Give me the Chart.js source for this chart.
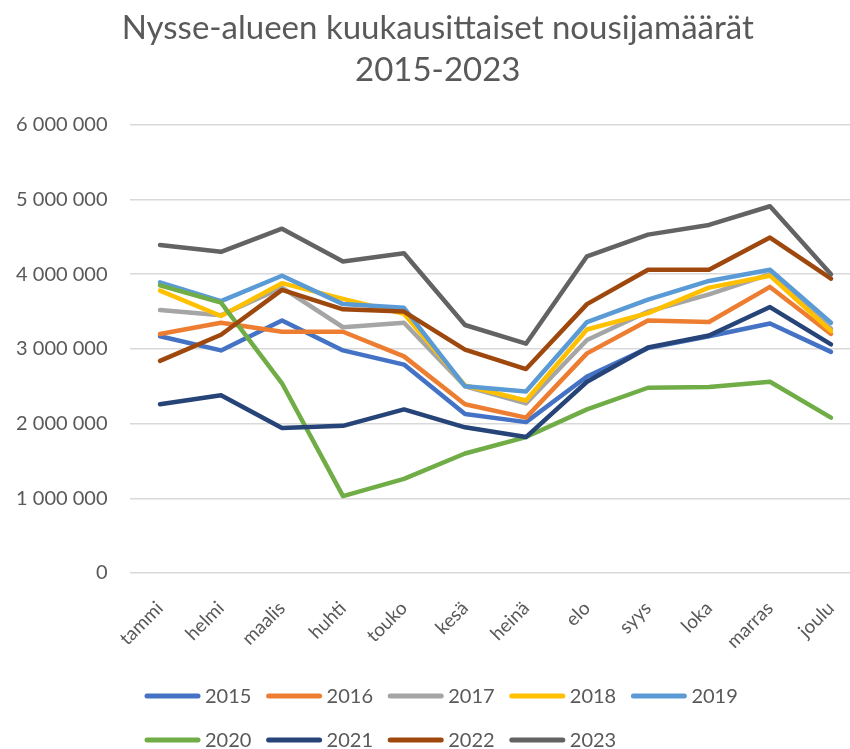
<!DOCTYPE html>
<html>
<head>
<meta charset="utf-8">
<script src="https://cdn.jsdelivr.net/npm/chart.js@4/dist/chart.umd.min.js"></script>
<style>
  html, body { margin: 0; padding: 0; background: #fff; overflow: hidden; }
  #wrap { width: 886px; height: 749px; }
</style>
</head>
<body>
<div id="wrap"><canvas id="chart" width="886" height="749"></canvas></div>
<script>
const months = ["tammi", "helmi", "maalis", "huhti", "touko", "kesä", "heinä", "elo", "syys", "loka", "marras", "joulu"];
const years = ["2015", "2016", "2017", "2018", "2019", "2020", "2021", "2022", "2023"];

const v2015 = [3170000, 2980000, 3380000, 2980000, 2790000, 2130000, 2020000, 2630000, 3010000, 3170000, 3340000, 2960000];
const v2016 = [3200000, 3350000, 3230000, 3230000, 2900000, 2260000, 2080000, 2940000, 3380000, 3360000, 3830000, 3200000];
const v2017 = [3520000, 3450000, 3820000, 3290000, 3350000, 2500000, 2270000, 3120000, 3500000, 3730000, 4000000, 3270000];
const v2018 = [3780000, 3440000, 3880000, 3670000, 3470000, 2510000, 2310000, 3260000, 3480000, 3820000, 3980000, 3240000];
const v2019 = [3890000, 3640000, 3980000, 3600000, 3550000, 2500000, 2430000, 3360000, 3660000, 3910000, 4060000, 3350000];
const v2020 = [3850000, 3620000, 2540000, 1030000, 1260000, 1600000, 1820000, 2190000, 2480000, 2490000, 2560000, 2080000];
const v2021 = [2260000, 2380000, 1940000, 1970000, 2190000, 1950000, 1820000, 2560000, 3020000, 3180000, 3560000, 3060000];
const v2022 = [2840000, 3190000, 3790000, 3530000, 3500000, 2990000, 2730000, 3600000, 4060000, 4060000, 4490000, 3940000];
const v2023 = [4390000, 4300000, 4610000, 4170000, 4280000, 3320000, 3070000, 4240000, 4530000, 4660000, 4910000, 4000000];

const series = [v2015, v2016, v2017, v2018, v2019, v2020, v2021, v2022, v2023];
const colors = ["#4472C4", "#ED7D31", "#A5A5A5", "#FFC000", "#5B9BD5", "#70AD47", "#264478", "#9E480E", "#636363"];

const textColor = "#595959";
const fontFamily = "Lato, 'Open Sans', sans-serif";

// excel style legend: fixed columns, rows start at same x
const gridLegend = {
  id: "gridLegend",
  afterDraw(chart) {
    const ctx = chart.ctx;
    const startX = 145, colW = 121.6, rowY = [696, 740], lineLen = 55, perRow = 5;
    ctx.save();
    ctx.font = "20px " + fontFamily;
    ctx.textBaseline = "middle";
    ctx.textAlign = "left";
    chart.data.datasets.forEach((ds, i) => {
      const x = startX + (i % perRow) * colW;
      const y = rowY[Math.floor(i / perRow)];
      ctx.strokeStyle = ds.borderColor;
      ctx.lineWidth = 5;
      ctx.lineCap = "round";
      ctx.beginPath();
      ctx.moveTo(x + 2, y);
      ctx.lineTo(x + lineLen - 2, y);
      ctx.stroke();
      ctx.fillStyle = textColor;
      ctx.fillText(ds.label, x + lineLen + 5, y + 1);
    });
    ctx.restore();
  }
};

const ctx = document.getElementById("chart").getContext("2d");
new Chart(ctx, {
  type: "line",
  data: {
    labels: months,
    datasets: years.map((y, i) => ({
      label: y,
      data: series[i],
      borderColor: colors[i],
      backgroundColor: colors[i],
      borderWidth: 4.5,
      pointRadius: 0,
      tension: 0,
      fill: false,
      borderJoinStyle: "round",
      borderCapStyle: "round",
      order: years.length - i,
    })),
  },
  options: {
    responsive: false,
    animation: false,
    layout: { padding: { left: 14, right: 24.5, top: 0, bottom: 96 } },
    plugins: {
      legend: { display: false },
      tooltip: { enabled: false },
      title: {
        display: true,
        text: ["Nysse-alueen kuukausittaiset nousijamäärät", "2015-2023"],
        color: textColor,
        font: { family: fontFamily, size: 33, weight: "normal", lineHeight: 1.27 },
        padding: { top: 7, bottom: 34 },
      },
    },
    scales: {
      x: {
        offset: true,
        grid: { display: false },
        border: { display: false },
        ticks: {
          color: textColor,
          font: { family: fontFamily, size: 19 },
          maxRotation: 45,
          minRotation: 45,
          padding: 16,
          autoSkip: false,
        },
        afterFit(scale) { scale.height = 80; },
      },
      y: {
        min: 0,
        max: 6000000,
        grid: { color: "#d9d9d9", lineWidth: 1.5, drawTicks: false },
        border: { display: false },
        ticks: {
          stepSize: 1000000,
          color: textColor,
          font: { family: fontFamily, size: 20 },
          padding: 22,
          callback: (v) => String(v).replace(/\B(?=(\d{3})+(?!\d))/g, " "),
        },
        afterFit(scale) { scale.width = 115.5; },
      },
    },
  },
  plugins: [gridLegend],
});
</script>
</body>
</html>
